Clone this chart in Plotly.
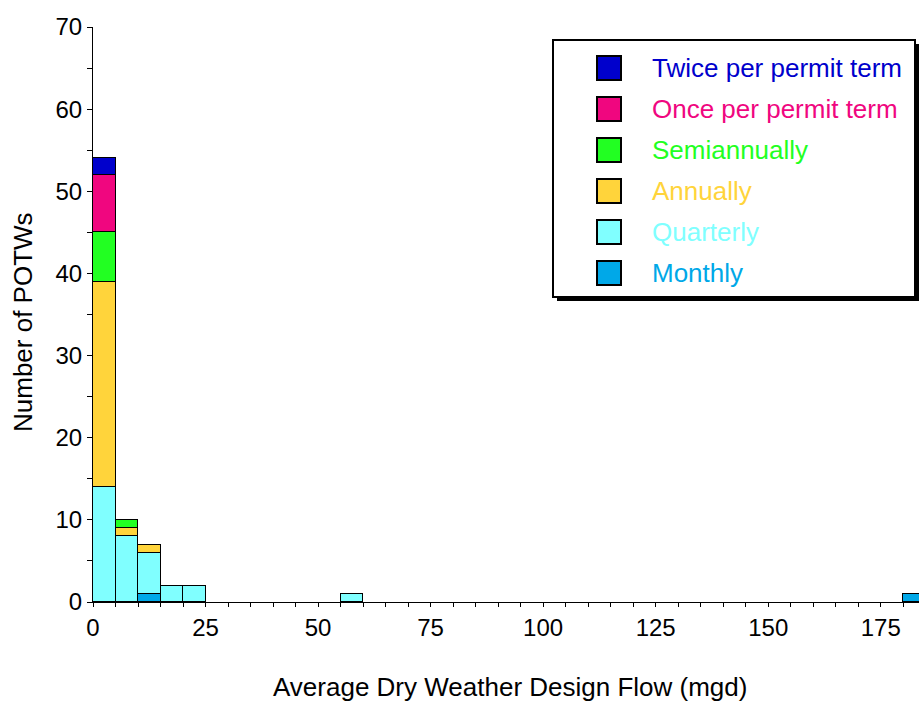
import plotly.graph_objects as go

bin_starts = [0, 5, 10, 15, 20, 55, 180]
bin_width = 5
series_names = ["Monthly", "Quarterly", "Annually", "Semiannually",
                "Once per permit term", "Twice per permit term"]
monthly      = [0, 0, 1, 0, 0, 0, 1]
quarterly    = [14, 8, 5, 2, 2, 1, 0]
annually     = [25, 1, 1, 0, 0, 0, 0]
semiannually = [6, 1, 0, 0, 0, 0, 0]
once_term    = [7, 0, 0, 0, 0, 0, 0]
twice_term   = [2, 0, 0, 0, 0, 0, 0]
series_values = [monthly, quarterly, annually, semiannually, once_term, twice_term]
colors = ["#00A8E8", "#80FFFF", "#FFD43B", "#22FF22", "#F0067F", "#0000CC"]
x_ticks = [0, 25, 50, 75, 100, 125, 150, 175]
y_ticks = [0, 10, 20, 30, 40, 50, 60, 70]

centers = [s + bin_width / 2 for s in bin_starts]

fig = go.Figure()
for name, vals, col in zip(series_names, series_values, colors):
    fig.add_trace(go.Bar(
        x=centers, y=vals, width=bin_width, name=name,
        marker=dict(color=col, line=dict(color="black", width=1)),
        showlegend=False,
    ))

font = "Liberation Sans, Arial, sans-serif"
L, T, B = 93, 27, 100
W, H = 919, 702
fig.update_layout(
    barmode="stack",
    width=W, height=H,
    margin=dict(l=L, r=0, t=T, b=B),
    plot_bgcolor="white", paper_bgcolor="white",
    font=dict(family=font, size=24, color="black"),
    bargap=0,
)
fig.update_xaxes(
    range=[0, 183.5], tickvals=x_ticks, ticktext=[str(v) for v in x_ticks],
    showline=True, linecolor="black", linewidth=1,
    ticks="outside", ticklen=4, tickcolor="black",
    minor=dict(dtick=5, tick0=0, ticks="outside", ticklen=4, tickcolor="black"),
    showgrid=False, zeroline=False,
    tickfont=dict(size=24),
)
fig.update_yaxes(
    range=[0, 70], tickvals=y_ticks,
    showline=True, linecolor="black", linewidth=1,
    ticks="outside", ticklen=5, tickcolor="black",
    minor=dict(dtick=5, tick0=0, ticks="outside", ticklen=5, tickcolor="black"),
    showgrid=False, zeroline=False,
    tickfont=dict(size=24),
)

pw, ph = W - L, H - T - B
def px(x):
    return (x - L) / pw
def py(y):
    return (H - B - y) / ph

shapes = []
annotations = []
# axis titles
annotations.append(dict(xref="paper", yref="paper", x=px(510), y=py(687),
                        text="Average Dry Weather Design Flow (mgd)", showarrow=False,
                        xanchor="center", yanchor="middle",
                        font=dict(family=font, size=26, color="black")))
annotations.append(dict(xref="paper", yref="paper", x=px(23), y=py(322),
                        text="Number of POTWs", showarrow=False, textangle=-90,
                        xanchor="center", yanchor="middle",
                        font=dict(family=font, size=26, color="black")))
# legend shadow and box
shapes.append(dict(type="rect", xref="paper", yref="paper",
                   x0=px(557), x1=px(920), y0=py(301), y1=py(44),
                   fillcolor="black", line=dict(width=0), layer="above"))
shapes.append(dict(type="rect", xref="paper", yref="paper",
                   x0=px(553), x1=px(915), y0=py(297), y1=py(40),
                   fillcolor="white", line=dict(color="black", width=2), layer="above"))
legend_order = list(zip(series_names, colors))[::-1]
for i, (name, col) in enumerate(legend_order):
    yc = 68 + i * 41
    shapes.append(dict(type="rect", xref="paper", yref="paper",
                       x0=px(597), x1=px(621), y0=py(yc + 12), y1=py(yc - 12),
                       fillcolor=col, line=dict(color="black", width=2), layer="above"))
    annotations.append(dict(xref="paper", yref="paper", x=px(650), y=py(yc),
                            text=name, showarrow=False, xanchor="left", yanchor="middle",
                            font=dict(family=font, size=26, color=col)))
fig.update_layout(shapes=shapes, annotations=annotations)

fig.write_html("out.html", config={"displayModeBar": False},
               post_script="document.body.style.margin='0';document.body.style.overflow='hidden';")
